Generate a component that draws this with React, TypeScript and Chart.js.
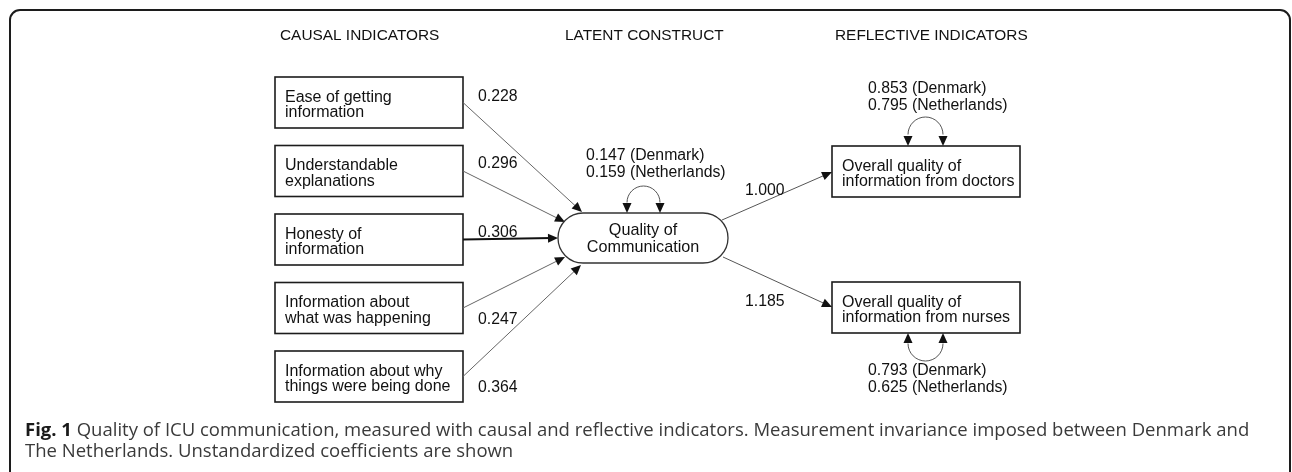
import React, { useEffect, useRef } from "react";
import { Chart, registerables } from "chart.js";

Chart.register(...registerables);

// ---------- DATA ----------
const columnHeaders = ["CAUSAL INDICATORS", "LATENT CONSTRUCT", "REFLECTIVE INDICATORS"];
const causalIndicators = [
  ["Ease of getting", "information"],
  ["Understandable", "explanations"],
  ["Honesty of", "information"],
  ["Information about", "what was happening"],
  ["Information about why", "things were being done"],
];
const causalCoefficients = [0.228, 0.296, 0.306, 0.247, 0.364];
const latentConstruct = ["Quality of", "Communication"];
const countries = ["Denmark", "Netherlands"];
const latentVariance = [0.147, 0.159];
const reflectiveIndicators = [
  ["Overall quality of", "information from doctors"],
  ["Overall quality of", "information from nurses"],
];
const reflectiveLoadings = [1.0, 1.185];
const residualDenmark = [0.853, 0.793];
const residualNetherlands = [0.795, 0.625];
const captionBold = "Fig. 1";
const captionLines = [
  " Quality of ICU communication, measured with causal and reflective indicators. Measurement invariance imposed between Denmark and",
  "The Netherlands. Unstandardized coefficients are shown",
];

// ---------- LAYOUT (diagram coordinates in scale units) ----------
const W = 1292;
const H = 472;
const headerX = [280, 565, 835];
const headerBaseline = 40;
const causalBox = { x: 275, w: 188, h: 51, top0: 77, step: 68.5 };
const causalTargets = [
  [582, 212],
  [565, 222],
  [558, 238],
  [565, 257],
  [581, 265],
];
const coefLabelOffset = [23.5, 22.5, 23, 41, 41];
const oval = { x1: 558, x2: 728, y1: 213, y2: 263 };
const reflBox = { x: 832, w: 188, h: 51, tops: [146, 282] };
const reflStart = [
  [722, 220],
  [723, 257],
];
const reflEnd = [
  [832, 172],
  [832, 307],
];
const loadingLabel = [
  [745, 195],
  [745, 306],
];

const SANS = "'Liberation Sans', Arial, sans-serif";

function fmt(v: number) {
  return v.toFixed(3);
}

const diagramPlugin = {
  id: "pathDiagram",
  afterDraw(chart: any) {
    const ctx: CanvasRenderingContext2D = chart.ctx;
    const sx = chart.scales.x;
    const sy = chart.scales.y;
    const X = (v: number) => sx.getPixelForValue(v);
    const Y = (v: number) => sy.getPixelForValue(v);

    ctx.save();

    // frame
    ctx.strokeStyle = "#1c1c1c";
    ctx.lineWidth = 2;
    ctx.beginPath();
    const r = 10;
    ctx.moveTo(X(10), Y(H + 10));
    ctx.lineTo(X(10), Y(10 + r));
    ctx.arcTo(X(10), Y(10), X(10 + r), Y(10), r);
    ctx.lineTo(X(1290 - r), Y(10));
    ctx.arcTo(X(1290), Y(10), X(1290), Y(10 + r), r);
    ctx.lineTo(X(1290), Y(H + 10));
    ctx.stroke();

    const arrowHead = (x1: number, y1: number, x2: number, y2: number, len = 10, hw = 4.5) => {
      const ang = Math.atan2(y2 - y1, x2 - x1);
      ctx.beginPath();
      ctx.moveTo(x2, y2);
      ctx.lineTo(x2 - len * Math.cos(ang) + hw * Math.sin(ang), y2 - len * Math.sin(ang) - hw * Math.cos(ang));
      ctx.lineTo(x2 - len * Math.cos(ang) - hw * Math.sin(ang), y2 - len * Math.sin(ang) + hw * Math.cos(ang));
      ctx.closePath();
      ctx.fillStyle = "#111";
      ctx.fill();
    };
    const arrow = (x1: number, y1: number, x2: number, y2: number, lw = 1, col = "#555") => {
      ctx.strokeStyle = col;
      ctx.lineWidth = lw;
      ctx.beginPath();
      ctx.moveTo(X(x1), Y(y1));
      const ang = Math.atan2(Y(y2) - Y(y1), X(x2) - X(x1));
      ctx.lineTo(X(x2) - 6 * Math.cos(ang), Y(y2) - 6 * Math.sin(ang));
      ctx.stroke();
      arrowHead(X(x1), Y(y1), X(x2), Y(y2));
    };
    const loop = (cx: number, cy: number, rr: number, edge: number, up: boolean) => {
      ctx.strokeStyle = "#555";
      ctx.lineWidth = 1;
      ctx.beginPath();
      if (up) ctx.arc(X(cx), Y(cy), rr, Math.PI, 2 * Math.PI);
      else ctx.arc(X(cx), Y(cy), rr, 0, Math.PI);
      ctx.stroke();
      arrowHead(X(cx - rr), Y(cy), X(cx - rr), Y(edge), 10, 4.5);
      arrowHead(X(cx + rr), Y(cy), X(cx + rr), Y(edge), 10, 4.5);
    };
    const text = (s: string, x: number, y: number, size: number, align: CanvasTextAlign = "left", weight = "normal", family = SANS, color = "#111") => {
      ctx.font = `${weight} ${size}px ${family}`;
      ctx.fillStyle = color;
      ctx.textAlign = align;
      ctx.textBaseline = "alphabetic";
      ctx.fillText(s, X(x), Y(y));
    };
    const box = (x: number, top: number, w: number, h: number, lines: string[]) => {
      ctx.strokeStyle = "#1c1c1c";
      ctx.lineWidth = 1.6;
      ctx.strokeRect(X(x), Y(top), X(x + w) - X(x), Y(top + h) - Y(top));
      text(lines[0], x + 10, top + 24.5, 16);
      text(lines[1], x + 10, top + 40, 16);
    };

    // headers
    columnHeaders.forEach((h, i) => text(h, headerX[i], headerBaseline, 15.4));

    // causal indicators
    causalIndicators.forEach((lines, i) => {
      const top = causalBox.top0 + i * causalBox.step;
      box(causalBox.x, top, causalBox.w, causalBox.h, lines);
      const sy0 = top + causalBox.h / 2;
      const bold = i === 2;
      arrow(causalBox.x + causalBox.w, sy0, causalTargets[i][0], causalTargets[i][1], bold ? 2 : 1, bold ? "#111" : "#666");
      text(fmt(causalCoefficients[i]), 478, top + coefLabelOffset[i], 15.8);
    });

    // latent construct (stadium)
    const rad = (oval.y2 - oval.y1) / 2;
    ctx.strokeStyle = "#333";
    ctx.lineWidth = 1.3;
    ctx.beginPath();
    ctx.moveTo(X(oval.x1 + rad), Y(oval.y1));
    ctx.lineTo(X(oval.x2 - rad), Y(oval.y1));
    ctx.arc(X(oval.x2 - rad), Y(oval.y1 + rad), rad, -Math.PI / 2, Math.PI / 2);
    ctx.lineTo(X(oval.x1 + rad), Y(oval.y2));
    ctx.arc(X(oval.x1 + rad), Y(oval.y1 + rad), rad, Math.PI / 2, (3 * Math.PI) / 2);
    ctx.closePath();
    ctx.stroke();
    const ocx = (oval.x1 + oval.x2) / 2;
    text(latentConstruct[0], ocx, 235, 16.2, "center");
    text(latentConstruct[1], ocx, 252, 16.2, "center");
    loop(643.5, 202.5, 16.5, oval.y1, true);
    text(`${fmt(latentVariance[0])} (${countries[0]})`, 586, 160, 15.8);
    text(`${fmt(latentVariance[1])} (${countries[1]})`, 586, 177, 15.8);

    // reflective indicators
    reflectiveIndicators.forEach((lines, i) => {
      const top = reflBox.tops[i];
      box(reflBox.x, top, reflBox.w, reflBox.h, lines);
      arrow(reflStart[i][0], reflStart[i][1], reflEnd[i][0], reflEnd[i][1], 1, "#555");
      text(fmt(reflectiveLoadings[i]), loadingLabel[i][0], loadingLabel[i][1], 15.8);
    });
    loop(925.5, 134.5, 17.5, reflBox.tops[0], true);
    text(`${fmt(residualDenmark[0])} (${countries[0]})`, 868, 93, 15.8);
    text(`${fmt(residualNetherlands[0])} (${countries[1]})`, 868, 110, 15.8);
    loop(925.5, 343.5, 17.5, reflBox.tops[1] + reflBox.h, false);
    text(`${fmt(residualDenmark[1])} (${countries[0]})`, 868, 375, 15.8);
    text(`${fmt(residualNetherlands[1])} (${countries[1]})`, 868, 392, 15.8);

    // caption
    const CAP = "'Open Sans', 'Noto Sans', sans-serif";
    const capSize = 18.5;
    ctx.font = `bold ${capSize}px ${CAP}`;
    const bw = ctx.measureText(captionBold).width;
    text(captionBold, 25, 436, capSize, "left", "bold", CAP, "#1a1a1a");
    text(captionLines[0], 25 + bw, 436, capSize, "left", "normal", CAP, "#3a3a3a");
    text(captionLines[1], 25, 457, capSize, "left", "normal", CAP, "#3a3a3a");

    ctx.restore();
  },
};

export default function App() {
  const ref = useRef<HTMLCanvasElement | null>(null);
  useEffect(() => {
    if (!ref.current) return;
    const chart = new Chart(ref.current, {
      type: "scatter",
      data: { datasets: [{ data: [], pointRadius: 0 }] },
      options: {
        animation: false,
        responsive: false,
        maintainAspectRatio: false,
        devicePixelRatio: 1,
        layout: { padding: 0 },
        plugins: { legend: { display: false }, tooltip: { enabled: false }, title: { display: false } },
        scales: {
          x: { type: "linear", min: 0, max: W, display: false },
          y: { type: "linear", min: 0, max: H, reverse: true, display: false },
        },
      },
      plugins: [diagramPlugin],
    });
    return () => chart.destroy();
  }, []);
  return (
    <div style={{ position: "absolute", left: 0, top: 0, width: W, height: H, background: "#fff" }}>
      <canvas ref={ref} width={W} height={H} style={{ width: W, height: H }} />
    </div>
  );
}
